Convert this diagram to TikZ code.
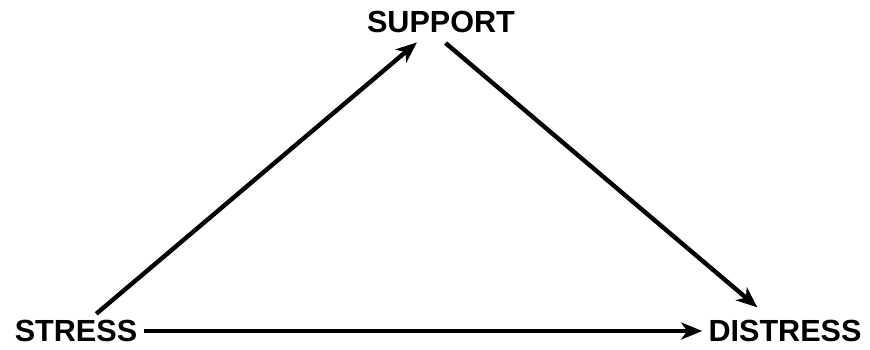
\documentclass[tikz,border=0pt]{standalone}
\usepackage{fontspec}
\setmainfont{Liberation Sans}
\usepackage{tikz}
\usetikzlibrary{arrows.meta, positioning, calc}

\begin{document}
\begin{tikzpicture}[
    label/.style={inner sep=0.12cm, font=\fontsize{17.4}{20}\selectfont\bfseries},
    arr/.style={-{Stealth[length=0.42cm, width=0.34cm, inset=0.12cm]}, line width=2.5pt},
]
\useasboundingbox (0,0) rectangle (17.4,6.98);

\node[label] (support) at (8.82,6.54) {SUPPORT};
\node[label] (stress) at (1.52,0.36) {STRESS};
\node[label] (distress) at (15.70,0.36) {DISTRESS};

\draw[arr, shorten >=0.1cm] (stress) -- (support);
\draw[arr, shorten <=0.12cm, shorten >=0.2cm] (support.south) -- ([xshift=-0.4cm]distress.north);
\draw[arr] (stress) -- (distress);

\end{tikzpicture}
\end{document}
